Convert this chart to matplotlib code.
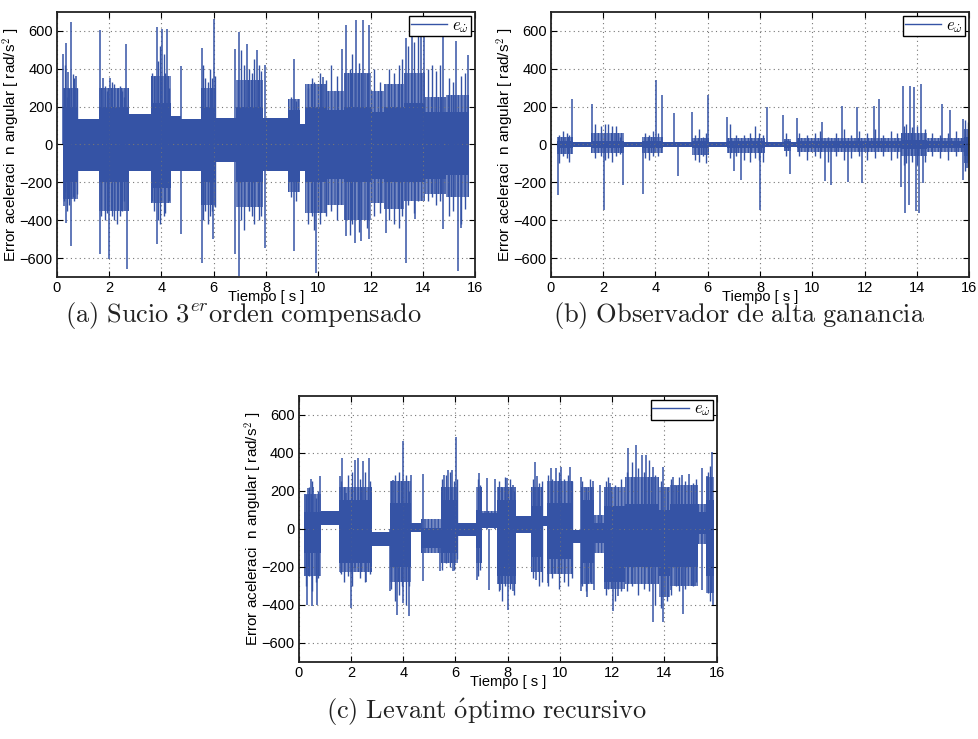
import numpy as np
import matplotlib.pyplot as plt

plt.rcParams['font.family'] = ['Liberation Sans', 'DejaVu Sans']
plt.rcParams['mathtext.fontset'] = 'cm'
plt.rcParams['hatch.linewidth'] = 0.9

azul = '#3553a5'

# (a) Sucio 3er orden compensado
a_t = [0.22, 0.82, 1.60, 2.75, 3.60, 4.35, 4.75, 5.50, 6.10, 6.85, 7.87, 8.86,
       9.30, 9.50, 10.30, 11.00, 12.00, 12.50, 13.30, 14.10, 14.90, 15.78]
a_core_hi = [200, 135, 200, 160, 220, 150, 135, 200, 140, 200, 140, 180, 110,
             200, 180, 200, 170, 200, 220, 170, 170]
a_core_lo = [-200, -140, -200, -140, -230, -140, -140, -200, -90, -200, -140,
             -200, -140, -200, -180, -200, -180, -200, -200, -180, -160]
a_fuzz_hi = [300, 135, 300, 160, 360, 150, 135, 300, 140, 340, 140, 240, 110,
             320, 280, 380, 280, 320, 380, 250, 260]
a_fuzz_lo = [-290, -140, -350, -140, -310, -140, -140, -320, -90, -330, -140,
             -250, -140, -360, -320, -400, -310, -340, -300, -260, -280]
a_up_t = [0.24, 0.33, 0.43, 0.54, 0.71, 1.65, 1.77, 2.03, 2.64, 3.81, 4.02,
          4.22, 4.73, 5.54, 6.01, 6.82, 6.95, 7.26, 7.64, 7.98, 9.09, 10.19,
          10.89, 11.08, 11.44, 11.72, 11.95, 13.35, 13.57, 13.92, 14.04, 14.76,
          15.29, 15.74]
a_up_y = [480, 537, 384, 647, 361, 607, 350, 350, 533, 621, 612, 612, 414,
          510, 661, 502, 595, 533, 498, 419, 449, 358, 507, 630, 656, 656, 633,
          560, 656, 586, 656, 577, 547, 472]
a_dn_t = [0.28, 0.36, 0.52, 1.65, 2.00, 2.67, 3.81, 4.73, 5.54, 5.98, 6.82,
          6.95, 7.98, 9.09, 9.91, 11.08, 11.42, 11.63, 11.95, 12.61, 13.35,
          13.70, 14.78, 15.36, 15.48]
a_dn_y = [-326, -414, -537, -581, -607, -660, -525, -475, -625, -502, -581,
          -695, -546, -563, -677, -484, -519, -510, -502, -467, -625, -396,
          -449, -668, -440]
a_hash_t = [0.26, 0.30, 0.40, 0.47, 0.60, 0.66, 0.75,
            1.70, 1.85, 1.92, 2.10, 2.20, 2.30, 2.40, 2.50, 2.58,
            3.65, 3.72, 3.88, 3.95, 4.08, 4.15, 4.28,
            5.60, 5.68, 5.78, 5.85, 5.95, 6.05,
            7.05, 7.15, 7.35, 7.45, 7.55, 7.72, 7.80,
            8.95, 9.15,
            9.60, 9.75, 9.85, 10.05, 10.30, 10.50, 10.70, 11.20, 11.30, 11.55,
            11.85, 12.15, 12.35, 12.70, 12.90, 13.10, 13.20, 13.45, 13.65,
            13.80, 14.20, 14.35, 14.50, 14.65, 15.00, 15.15, 15.45, 15.60]
a_hash_hi = [300, 420, 250, 300, 370, 350, 300,
             300, 310, 280, 330, 320, 300, 310, 280, 250,
             380, 360, 440, 520, 480, 380, 300,
             420, 350, 330, 400, 350, 360,
             500, 420, 400, 380, 450, 420, 390,
             250, 230,
             300, 350, 330, 380, 340, 420, 360, 400, 480, 430,
             380, 400, 330, 400, 380, 420, 450, 520, 540,
             600, 400, 420, 390, 420, 350, 330, 360, 380]
a_hash_lo = [-300, -250, -350, -320, -280, -300, -260,
             -380, -400, -360, -380, -400, -420, -380, -350, -300,
             -300, -350, -400, -420, -380, -360, -300,
             -400, -350, -420, -380, -350, -330,
             -400, -450, -350, -380, -420, -400, -380,
             -280, -300,
             -420, -380, -450, -420, -380, -350, -400, -480, -420, -460,
             -440, -380, -360, -400, -420, -440, -380, -320, -360,
             -300, -300, -280, -320, -300, -380, -350, -420, -340]

# (b) Observador de alta ganancia
b_t = [0.22, 0.85, 1.55, 2.80, 3.50, 4.30, 5.40, 6.05, 6.75, 8.20, 8.90, 9.20,
       9.40, 13.40, 14.40, 15.80, 16.00]
b_core_hi = [20, 15, 20, 15, 20, 15, 20, 15, 20, 15, 20, 15, 20, 25, 20, 40]
b_core_lo = [-20, -15, -20, -15, -20, -15, -20, -15, -20, -15, -20, -15, -20,
             -25, -20, -60]
b_fuzz_hi = [40, 15, 60, 15, 40, 15, 35, 15, 35, 15, 30, 15, 35, 60, 35, 80]
b_fuzz_lo = [-50, -15, -45, -15, -45, -15, -55, -15, -45, -15, -35, -15, -40,
             -60, -40, -100]
b_up_t = [0.79, 1.56, 4.01, 4.25, 4.70, 5.40, 6.01, 6.75, 8.26, 8.89, 9.43,
          10.39, 11.15, 11.70, 12.36, 12.57, 13.49, 13.74, 13.89, 14.15, 14.98,
          15.27, 15.78]
b_up_y = [239, 214, 340, 261, 165, 172, 260, 144, 196, 156, 139, 119, 204,
          200, 204, 239, 309, 309, 302, 319, 212, 182, 135]
b_dn_t = [0.26, 2.02, 2.76, 3.51, 4.85, 7.02, 7.26, 8.00, 9.15, 10.50, 10.71,
          11.36, 11.90, 13.38, 13.55, 13.70, 13.97, 14.10, 14.25, 15.76, 15.94]
b_dn_y = [-265, -344, -212, -260, -165, -142, -186, -344, -154, -195, -212,
          -200, -204, -226, -361, -318, -353, -361, -204, -186, -125]
b_hash_t = [0.30, 0.45, 0.60, 0.70,
            1.70, 1.90, 2.05, 2.20, 2.35, 2.50, 2.65,
            3.60, 3.75, 3.90, 4.10,
            5.50, 5.65, 5.80, 5.95,
            6.85, 7.10, 7.40, 7.60, 7.80, 7.95, 8.10,
            9.00,
            9.50, 9.80, 10.10, 10.30, 10.60, 10.90, 11.20, 11.50, 11.80, 12.10,
            12.40, 12.70, 13.00, 13.25,
            13.50, 13.60, 13.80, 14.00, 14.30,
            14.60, 14.90, 15.20, 15.50,
            15.85, 15.95]
b_hash_hi = [50, 70, 60, 50,
             110, 100, 110, 110, 100, 100, 40,
             60, 50, 70, 60,
             50, 80, 40, 60,
             110, 50, 50, 60, 100, 60, 50,
             60,
             60, 50, 60, 70, 40, 60, 80, 50, 70, 60,
             80, 50, 70, 60,
             100, 110, 90, 100, 80,
             60, 50, 60, 70,
             130, 120]
b_hash_lo = [-100, -60, -70, -90,
             -70, -60, -80, -70, -90, -60, -50,
             -70, -80, -60, -60,
             -80, -90, -60, -100,
             -70, -60, -80, -90, -70, -80, -90,
             -60,
             -60, -80, -60, -70, -90, -60, -80, -70, -60, -80,
             -70, -60, -80, -70,
             -110, -100, -90, -110, -90,
             -60, -70, -80, -60,
             -140, -120]

# (c) Levant optimo recursivo
c_t = [0.22, 0.85, 1.55, 2.80, 3.50, 4.30, 4.70, 5.45, 6.10, 6.80, 7.00, 7.60,
       8.30, 8.90, 9.35, 9.50, 10.50, 10.80, 11.30, 11.70, 12.50, 13.80, 14.20,
       15.30, 15.60, 15.90]
c_core_hi = [90, 95, 150, -20, 135, 30, 5, 150, 30, 100, 80, 150, 65, 120, 65,
             135, -5, 150, 30, 120, 130, 100, 130, 90, 150]
c_core_lo = [-130, 20, -180, -90, -200, -15, -100, -130, -40, -100, 5, -250,
             -25, -150, 12, -160, -75, -180, -75, -280, -200, -250, -200, -30,
             -250]
c_fuzz_hi = [180, 95, 220, -20, 250, 30, 50, 220, 30, 220, 95, 220, 65, 220,
             65, 250, -5, 220, 70, 220, 270, 220, 230, 130, 270]
c_fuzz_lo = [-250, 20, -230, -90, -280, -15, -130, -180, -40, -180, 5, -290,
             -25, -230, 12, -240, -75, -290, -130, -320, -290, -360, -300, -80,
             -340]
c_up_t = [0.34, 0.46, 0.56, 0.82, 1.58, 1.67, 1.81, 2.16, 2.27, 2.48, 2.68,
          3.60, 4.01, 4.29, 4.75, 5.56, 5.73, 5.87, 6.01, 6.89, 7.20, 7.52,
          7.96, 8.22, 9.03, 9.11, 9.65, 9.85, 10.03, 10.39, 10.79, 11.28, 11.53,
          11.92, 12.62, 12.91, 13.13, 13.30, 13.55, 13.93, 14.34, 14.66, 14.95,
          15.43, 15.62, 15.81]
c_up_y = [214, 261, 219, 279, 279, 372, 188, 363, 372, 354, 372, 254, 463,
          284, 289, 284, 310, 307, 482, 293, 267, 261, 267, 232, 349, 275, 319,
          319, 325, 325, 272, 249, 232, 240, 425, 442, 389, 389, 325, 325, 272,
          284, 289, 319, 275, 404]
c_dn_t = [0.33, 0.50, 0.71, 0.79, 1.63, 1.99, 2.16, 2.58, 3.51, 3.75, 4.01,
          4.24, 4.75, 5.41, 5.92, 6.81, 7.29, 7.71, 8.00, 8.22, 9.08, 9.56,
          9.81, 10.79, 11.02, 11.30, 12.02, 12.24, 12.62, 13.55, 13.93, 14.24,
          14.70, 15.04, 15.43, 15.85]
c_dn_y = [-400, -405, -400, -251, -233, -418, -207, -282, -330, -453, -391,
          -461, -277, -225, -225, -268, -321, -321, -430, -330, -268, -286,
          -233, -330, -360, -321, -435, -356, -225, -493, -493, -321, -447,
          -303, -321, -400]
c_hash_t = [0.28, 0.40, 0.52, 0.65, 0.75,
            1.62, 1.75, 1.90, 2.05, 2.35, 2.55, 2.72,
            3.55, 3.68, 3.85, 3.95, 4.12, 4.22,
            5.50, 5.62, 5.80, 5.95, 6.05,
            6.85, 6.95,
            7.65, 7.80, 7.90, 8.10, 8.25,
            8.95, 9.20, 9.30,
            9.55, 9.70, 9.95, 10.15, 10.30, 10.45,
            10.85, 11.00, 11.15,
            11.75, 11.85, 12.10, 12.35,
            12.55, 12.75, 13.00, 13.20, 13.40, 13.65,
            13.85, 14.10,
            14.25, 14.45, 14.55, 14.80, 15.10, 15.20,
            15.65, 15.75]
c_hash_hi = [180, 220, 250, 160, 200,
             250, 220, 280, 300, 260, 300, 250,
             250, 280, 300, 250, 280, 200,
             260, 280, 300, 250, 260,
             260, 230,
             250, 220, 270, 260, 200,
             260, 240, 250,
             280, 260, 300, 260, 280, 250,
             250, 220, 260,
             250, 270, 230, 260,
             300, 350, 320, 300, 360, 280,
             250, 220,
             260, 230, 270, 250, 240, 260,
             300, 330]
c_hash_lo = [-300, -250, -330, -280, -260,
             -240, -280, -250, -300, -260, -280, -240,
             -320, -380, -350, -300, -400, -300,
             -220, -180, -200, -220, -160,
             -250, -220,
             -330, -380, -300, -320, -350,
             -260, -300, -280,
             -300, -260, -320, -280, -300, -260,
             -300, -330, -280,
             -350, -320, -380, -330,
             -330, -300, -350, -320, -330, -400,
             -420, -380,
             -350, -300, -330, -320, -300, -280,
             -340, -380]


def panel(ax, t, core_hi, core_lo, fuzz_hi, fuzz_lo, up_t, up_y, dn_t, dn_y,
          hash_t, hash_hi, hash_lo):
    # zona ruidosa (rayado vertical) y nucleo denso, por tramos
    fh = np.append(fuzz_hi, fuzz_hi[-1])
    fl = np.append(fuzz_lo, fuzz_lo[-1])
    ch = np.append(core_hi, core_hi[-1])
    cl = np.append(core_lo, core_lo[-1])
    ax.fill_between(t, fl, fh, step='post', facecolor=azul, alpha=0.68, lw=0)
    ax.fill_between(t, fl, fh, step='post', facecolor='none', edgecolor=azul,
                    hatch='|||||', lw=0)
    ax.fill_between(t, cl, ch, step='post', color=azul, lw=0)
    # picos
    ax.vlines(hash_t, hash_lo, hash_hi, color=azul, lw=1.0)
    ax.vlines(up_t, 0, up_y, color=azul, lw=1.1)
    ax.vlines(dn_t, 0, dn_y, color=azul, lw=1.1)
    ax.plot([], [], color=azul, lw=1, label=r'$e_{\dot{\omega}}$')

    ax.set_xlim(0, 16)
    ax.set_ylim(-700, 700)
    ax.set_xticks(range(0, 17, 2))
    ax.set_yticks(range(-600, 601, 200))
    ax.tick_params(direction='in', top=True, right=True, length=4,
                   labelsize=10.5, pad=3)
    ax.grid(True, linestyle=(0, (1, 3)), color='#777777', lw=0.8)
    for s in ax.spines.values():
        s.set_linewidth(1.3)
        s.set_color('#222222')
    ax.set_xlabel('Tiempo [ s ]', fontsize=10.5,
                  family=['Liberation Sans Narrow', 'Liberation Sans'])
    ax.xaxis.set_label_coords(0.5, -0.05)
    ax.set_ylabel(r'Error aceleraci  n angular [ rad/s$^2$ ]', fontsize=11)
    ax.yaxis.set_label_coords(-0.083, 0.5)
    leg = ax.legend(loc='upper right', fontsize=12, fancybox=False,
                    borderaxespad=0.25, handlelength=2.2, borderpad=0.1,
                    handletextpad=0.3, framealpha=1)
    leg.get_frame().set_edgecolor('black')
    leg.get_frame().set_linewidth(1.0)


fig = plt.figure(figsize=(9.79, 7.39), dpi=100)
ax_a = fig.add_axes([0.0582, 0.6252, 0.427, 0.3586])
ax_b = fig.add_axes([0.5628, 0.6252, 0.427, 0.3586])
ax_c = fig.add_axes([0.3051, 0.1046, 0.427, 0.3600])

panel(ax_a, a_t, a_core_hi, a_core_lo, a_fuzz_hi, a_fuzz_lo, a_up_t, a_up_y,
      a_dn_t, a_dn_y, a_hash_t, a_hash_hi, a_hash_lo)
panel(ax_b, b_t, b_core_hi, b_core_lo, b_fuzz_hi, b_fuzz_lo, b_up_t, b_up_y,
      b_dn_t, b_dn_y, b_hash_t, b_hash_hi, b_hash_lo)
panel(ax_c, c_t, c_core_hi, c_core_lo, c_fuzz_hi, c_fuzz_lo, c_up_t, c_up_y,
      c_dn_t, c_dn_y, c_hash_t, c_hash_hi, c_hash_lo)

fig.text(0.248, 0.573, r'$\mathrm{(a)\ Sucio\ 3}^{er}\mathrm{orden\ compensado}$',
         ha='center', va='center', fontsize=19, color='#222222')
fig.text(0.755, 0.573, r'$\mathrm{(b)\ Observador\ de\ alta\ ganancia}$',
         ha='center', va='center', fontsize=19, color='#222222')
fig.text(0.4965, 0.036, r'$\mathrm{(c)\ Levant\ \acute{o}ptimo\ recursivo}$',
         ha='center', va='center', fontsize=19, color='#222222')

fig.savefig('out.png', dpi=100)
